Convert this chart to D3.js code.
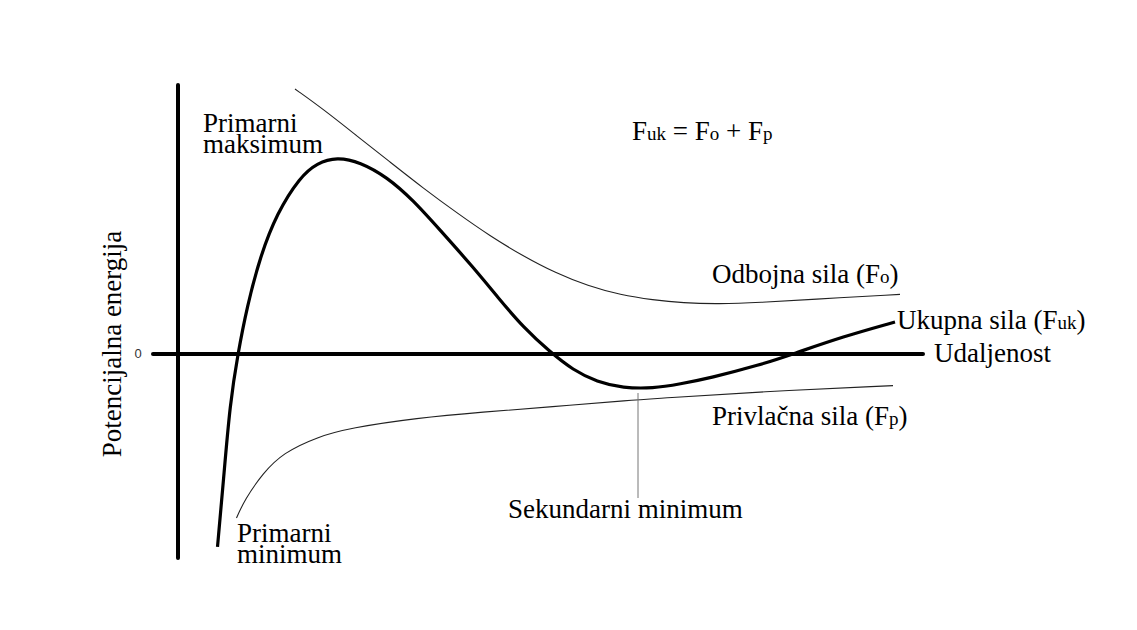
<!DOCTYPE html>
<html>
<head>
<meta charset="utf-8">
<script src="https://cdn.jsdelivr.net/npm/d3@7"></script>
<style>
  body { margin: 0; background: #fff; }
  text { font-family: "Liberation Serif", "Times New Roman", serif; fill: #000; }
</style>
</head>
<body>
<div class="chart"></div>
<script>
// distance (x) vs potential energy (y)
const ukupna = [
  [7.9, -96.4], [9.1, -63], [10.4, -24.7], [12, 0.5], [13.8, 23.5], [16.4, 48.5],
  [19.8, 70.5], [24.4, 88.5], [27.8, 95.5], [31.8, 98.5], [36.4, 96], [41.8, 88.5],
  [47, 77], [52.4, 62], [59, 43.5], [64.4, 27], [69, 13.5], [74.4, 1], [79, -8],
  [83.8, -14], [89, -17], [95, -17.2], [100.4, -15], [106.4, -12], [116.4, -5.5],
  [123, 0], [133, 8.7], [143.4, 16]
]
const odbojna = [
  [23.4, 132.5], [29, 122.5], [35.8, 109], [42.4, 96], [49, 83], [55.8, 70.5],
  [62.4, 59], [69, 49], [75.5, 40.5], [82, 34], [88.5, 29.5], [95, 27],
  [101, 25.5], [108, 25], [116.4, 25.7], [126.4, 27.3], [144.4, 29.8]
]
const privlacna = [
  [11.7, -82], [13.3, -73], [17, -59.5], [21, -49.5], [27.8, -41.5], [34.4, -37],
  [47.8, -32], [61, -29], [74.4, -26.5], [91, -23], [96.4, -22.2], [116.4, -18.8],
  [143, -15.8]
]
const sekundarniMin = [[92, -19.5], [92, -72]]
const xAxisRange = [-5, 149]
const yAxisRange = [-102, 134.5]

const width = 1137, height = 630

const svg = d3.select(".chart").append("svg")
  .attr("width", width)
  .attr("height", height)

const xs = d3.scaleLinear().domain([0, 149]).range([178, 923])
const ys = d3.scaleLinear().domain(yAxisRange).range([558, 85])

const line = d3.line()
  .x(d => xs(d[0]))
  .y(d => ys(d[1]))
  .curve(d3.curveBasis)

// axes, plain thick lines
svg.append("line")
  .attr("x1", xs(0)).attr("x2", xs(0))
  .attr("y1", ys(yAxisRange[0])).attr("y2", ys(yAxisRange[1]))
  .attr("stroke", "#000").attr("stroke-width", 4).attr("stroke-linecap", "round")

svg.append("line")
  .attr("x1", xs(xAxisRange[0])).attr("x2", xs(xAxisRange[1]))
  .attr("y1", ys(0)).attr("y2", ys(0))
  .attr("stroke", "#000").attr("stroke-width", 4).attr("stroke-linecap", "round")

svg.append("text")
  .attr("x", xs(0) - 40).attr("y", ys(0) + 1)
  .attr("text-anchor", "middle")
  .attr("dominant-baseline", "middle")
  .style("font-family", "'Liberation Sans', Arial, sans-serif")
  .style("font-size", "13px")
  .style("fill", "#333")
  .text("0")

// thin curves
svg.selectAll(".thin").data([odbojna, privlacna]).join("path")
  .attr("class", "thin")
  .attr("d", line)
  .attr("fill", "none")
  .attr("stroke", "#222")
  .attr("stroke-width", 1.1)

svg.append("path")
  .attr("d", line(ukupna))
  .attr("fill", "none")
  .attr("stroke", "#000")
  .attr("stroke-width", 3.2)

svg.append("path")
  .attr("d", d3.line().x(d => xs(d[0])).y(d => ys(d[1]))(sekundarniMin))
  .attr("stroke", "#777")
  .attr("stroke-width", 1)

// labels, subscripts as smaller tspans
const fs = 27
function label(x, y, parts) {
  const t = svg.append("text").attr("x", x).attr("y", y).style("font-size", fs + "px")
  parts.forEach(p => {
    if (typeof p === "string") t.append("tspan").text(p)
    else t.append("tspan").style("font-size", "19px").text(p.sub)
  })
  return t
}

label(203, 132, ["Primarni"])
label(203, 153, ["maksimum"])
label(237, 542, ["Primarni"])
label(237, 563, ["minimum"])
label(508, 518, ["Sekundarni minimum"])
label(632, 140, ["F", {sub: "uk"}, " = F", {sub: "o"}, " + F", {sub: "p"}])
label(712, 283, ["Odbojna sila (F", {sub: "o"}, ")"])
label(897, 329, ["Ukupna sila (F", {sub: "uk"}, ")"])
label(934, 362, ["Udaljenost"])
label(712, 425, ["Privlačna sila (F", {sub: "p"}, ")"])

svg.append("text")
  .attr("transform", "translate(121, 344) rotate(-90)")
  .attr("text-anchor", "middle")
  .style("font-size", fs + "px")
  .text("Potencijalna energija")
</script>
</body>
</html>
